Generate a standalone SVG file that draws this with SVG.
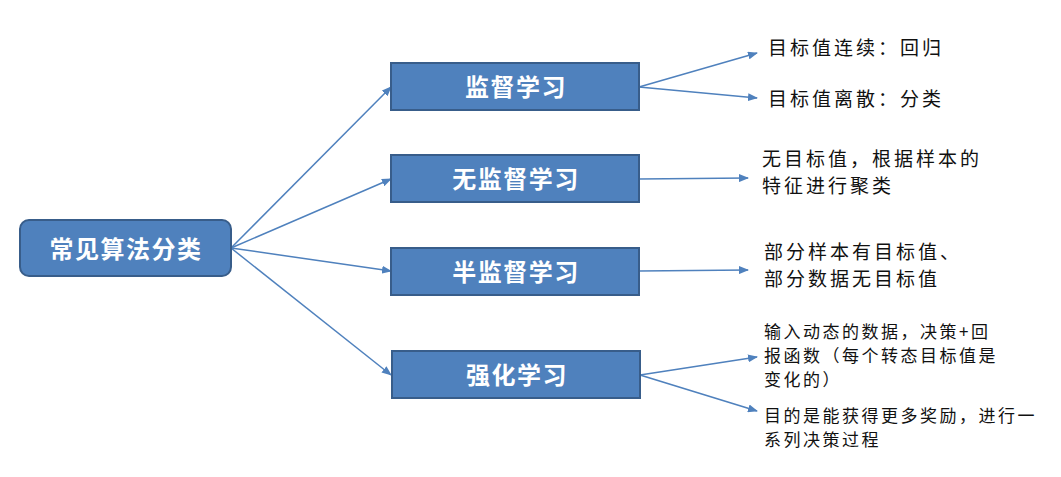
<svg xmlns="http://www.w3.org/2000/svg" width="1061" height="477" viewBox="0 0 1061 477">
<style>
.box{fill:#4f81bd;stroke:#385d8a;stroke-width:2}
.bt{fill:#fff;font-family:"Noto Sans CJK SC",sans-serif;font-size:24px;font-weight:bold;letter-spacing:1.5px;text-anchor:middle;dominant-baseline:central}
.lt{fill:#111;font-family:"Noto Sans CJK SC",sans-serif;font-size:19px;letter-spacing:3px}
.st{fill:#111;font-family:"Noto Sans CJK SC",sans-serif;font-size:17px;letter-spacing:2.5px}
.c{stroke:#4f81bd;stroke-width:1.5;fill:none;marker-end:url(#a)}
</style>
<defs><marker id="a" markerWidth="10" markerHeight="8" refX="9" refY="4" orient="auto" markerUnits="userSpaceOnUse"><path d="M0,0L10,4L0,8z" fill="#4f81bd"/></marker></defs>
<rect width="1061" height="477" fill="#fff"/>
<g id="connectors">
<path class="c" d="M231,248L391,87"/>
<path class="c" d="M231,248L391,179"/>
<path class="c" d="M231,248L391,271"/>
<path class="c" d="M231,248L391,375"/>
<path class="c" d="M639,87L757,53"/>
<path class="c" d="M639,87L757,98"/>
<path class="c" d="M639,179L748,178"/>
<path class="c" d="M639,271L748,270"/>
<path class="c" d="M640,375L757,357"/>
<path class="c" d="M640,375L757,411"/>
</g>
<g id="root"><rect class="box" x="20" y="220" width="211" height="56" rx="9"/><text class="bt" x="126" y="247">常见算法分类</text></g>
<g id="n1"><rect class="box" x="391" y="63" width="248" height="47"/><text class="bt" x="516" y="85">监督学习</text></g>
<g id="n2"><rect class="box" x="391" y="155" width="248" height="47"/><text class="bt" x="516" y="177">无监督学习</text></g>
<g id="n3"><rect class="box" x="391" y="248" width="248" height="47"/><text class="bt" x="516" y="270">半监督学习</text></g>
<g id="n4"><rect class="box" x="392" y="351" width="248" height="47"/><text class="bt" x="517" y="373">强化学习</text></g>
<g id="t1"><text class="lt" x="768" y="55">目标值连续：回归</text></g>
<g id="t2"><text class="lt" x="768" y="106">目标值离散：分类</text></g>
<g id="t3"><text class="lt" x="762" y="166">无目标值，根据样本的</text><text class="lt" x="762" y="193">特征进行聚类</text></g>
<g id="t4"><text class="lt" x="764" y="259">部分样本有目标值、</text><text class="lt" x="764" y="286">部分数据无目标值</text></g>
<g id="t5"><text class="st" x="764" y="338">输入动态的数据，决策+回</text><text class="st" x="764" y="362">报函数（每个转态目标值是</text><text class="st" x="764" y="386">变化的）</text></g>
<g id="t6"><text class="st" x="764" y="422">目的是能获得更多奖励，进行一</text><text class="st" x="764" y="446">系列决策过程</text></g>
</svg>
